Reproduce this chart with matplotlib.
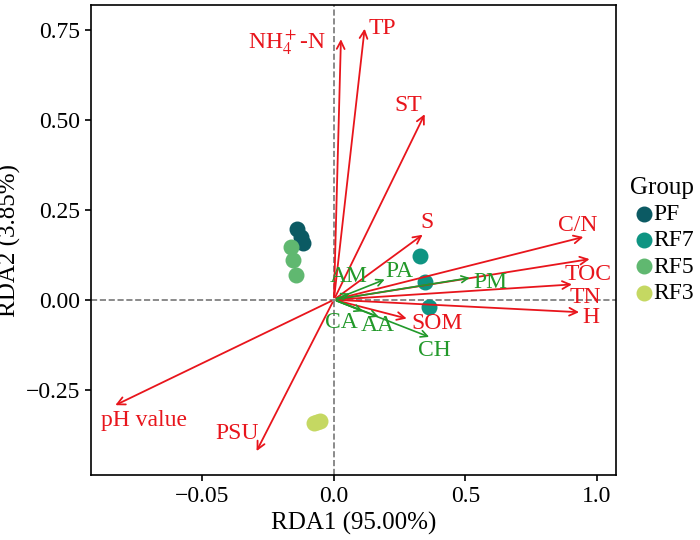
import matplotlib
matplotlib.use('Agg')
import matplotlib.pyplot as plt

plt.rcParams['font.family'] = ['Liberation Serif', 'DejaVu Serif']
plt.rcParams['mathtext.fontset'] = 'stix'

RED = '#e8151c'
GREEN = '#22992a'

class RDAPlot:
	def __init__(self):
		# sample scores
		self.groups = {
			'PF': ('#0b5a63', [(-0.139, 0.195), (-0.127, 0.173), (-0.117, 0.157)]),
			'RF7': ('#0e9482', [(0.328, 0.122), (0.346, 0.050), (0.363, -0.020)]),
			'RF5': ('#60b870', [(-0.162, 0.147), (-0.154, 0.109), (-0.144, 0.068)]),
			'RF3': ('#c5d862', [(-0.076, -0.341), (-0.064, -0.339), (-0.054, -0.337)]),
		}
		# environment arrows: name, tip, label position, alignment
		self.env = [
			('NH$_4^+$-N', (0.027, 0.731), (-0.03, 0.715), 'right'),
			('TP', (0.118, 0.760), (0.13, 0.752), 'left'),
			('ST', (0.350, 0.522), (0.282, 0.538), 'center'),
			('S', (0.346, 0.185), (0.355, 0.214), 'center'),
			('C/N', (0.959, 0.176), (0.929, 0.206), 'center'),
			('TOC', (0.983, 0.114), (0.966, 0.071), 'center'),
			('TN', (0.916, 0.043), (0.956, 0.007), 'center'),
			('H', (0.943, -0.035), (0.976, -0.050), 'center'),
			('SOM', (0.287, -0.054), (0.394, -0.066), 'center'),
			('pH value', (-0.841, -0.296), (-0.721, -0.335), 'center'),
			('PSU', (-0.299, -0.427), (-0.367, -0.370), 'center'),
		]
		self.species = [
			('AM', (0.07, 0.02), (0.056, 0.064)),
			('PA', (0.203, 0.059), (0.248, 0.079)),
			('PM', (0.527, 0.062), (0.595, 0.047)),
			('CA', (0.12, -0.035), (0.03, -0.062)),
			('AA', (0.18, -0.05), (0.165, -0.072)),
			('CH', (0.372, -0.106), (0.382, -0.142)),
		]

	def draw(self):
		fig, ax = plt.subplots(figsize=(7, 5.4), dpi=100)
		ax.axhline(0, color='#777777', ls='--', lw=1.2, zorder=0)
		ax.axvline(0, color='#777777', ls='--', lw=1.2, zorder=0)

		for name, (color, pts) in self.groups.items():
			xs = [p[0] for p in pts]
			ys = [p[1] for p in pts]
			ax.scatter(xs, ys, s=110, color=color, label=name, zorder=2)

		for name, tip, pos, ha in self.env:
			ax.annotate('', xy=tip, xytext=(0, 0),
				arrowprops=dict(arrowstyle='->', color=RED, lw=1.3, mutation_scale=14), zorder=3)
			ax.text(pos[0], pos[1], name, color=RED, fontsize=17, ha=ha, va='center')

		for name, tip, pos in self.species:
			ax.annotate('', xy=tip, xytext=(0, 0),
				arrowprops=dict(arrowstyle='->', color=GREEN, lw=1.2, mutation_scale=12), zorder=3)
			ax.text(pos[0], pos[1], name, color=GREEN, fontsize=17, ha='center', va='center')

		ax.set_xlim(-0.924, 1.073)
		ax.set_ylim(-0.487, 0.817)
		ax.set_xticks([-0.5, 0.0, 0.5, 1.0])
		ax.set_xticklabels(['\u22120.05', '0.0', '0.5', '1.0'])
		ax.set_yticks([-0.25, 0.0, 0.25, 0.5, 0.75])
		ax.set_yticklabels(['\u22120.25', '0.00', '0.25', '0.50', '0.75'])
		ax.tick_params(labelsize=17, length=4, width=1.2)
		for sp in ax.spines.values():
			sp.set_linewidth(1.2)
		ax.set_xlabel('RDA1 (95.00%)', fontsize=18)
		ax.set_ylabel('RDA2 (3.85%)', fontsize=18)

		leg = ax.legend(title='Group', loc='center left', bbox_to_anchor=(1.0, 0.5),
			frameon=False, fontsize=17, title_fontsize=18, handletextpad=-0.2,
			handlelength=1.2, labelspacing=0.2, borderaxespad=0.2)
		leg._legend_box.align = 'left'

		fig.subplots_adjust(left=0.13, right=0.88, top=0.99, bottom=0.12)
		fig.savefig('out.png')

def main():
	RDAPlot().draw()

if __name__ == '__main__':
	main()
